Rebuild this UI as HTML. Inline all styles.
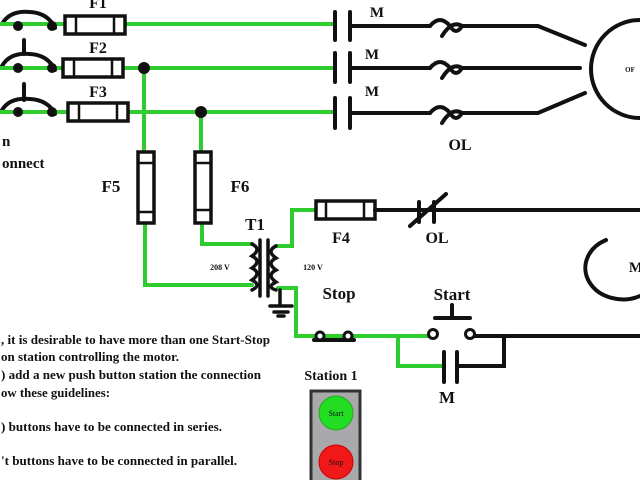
<!DOCTYPE html>
<html><head><meta charset="utf-8"><style>html,body{margin:0;padding:0;background:#fff}svg{display:block}</style></head><body>
<svg width="640" height="480" viewBox="0 0 640 480" xmlns="http://www.w3.org/2000/svg" font-family="Liberation Serif, serif" font-weight="bold">
<rect width="640" height="480" fill="#fff"/>
<g fill="none" stroke-linecap="round">
<!-- disconnect arcs -->
<g stroke="#111" stroke-width="4">
<path d="M2 24 Q10 10 30 12 Q48 13 55 28"/><path d="M2 66 Q10 52 30 54 Q48 55 55 70"/><path d="M2 110 Q10 97 30 99 Q48 100 55 114"/>
<path d="M24 40 V54"/><path d="M24 84 V100"/>
</g>
<!-- green power lines -->
<g stroke="#2ecc2e" stroke-width="4">
<path d="M0 24 H64"/><path d="M126 24 H335"/>
<path d="M0 68 H62"/><path d="M124 68 H335"/>
<path d="M0 112 H67"/><path d="M129 112 H335"/>
<path d="M144 68 V150"/><path d="M201 112 V150"/>
<path d="M145 223 V285 H252"/><path d="M202 223 V244 H252"/>
<path d="M276 246 H292 V210 H316"/>
<path d="M278 288 H296 V336 H432"/>
<path d="M398 336 V366 H444"/>
</g>
<g fill="#111" stroke="none"><circle cx="18" cy="26" r="5"/><circle cx="52" cy="26" r="5"/><circle cx="18" cy="68" r="5"/><circle cx="52" cy="68" r="5"/><circle cx="18" cy="112" r="5"/><circle cx="52" cy="112" r="5"/>
<circle cx="144" cy="68" r="6"/><circle cx="201" cy="112" r="6"/></g>
<!-- fuses -->
<g stroke="#111" stroke-width="3.5" fill="#fff">
<rect x="65" y="16" width="60" height="18"/><rect x="63" y="59" width="60" height="18"/><rect x="68" y="103" width="60" height="18"/>
<rect x="138" y="152" width="16" height="71"/><rect x="195" y="152" width="16" height="71"/>
<rect x="316" y="201" width="59" height="18"/>
</g>
<g stroke="#111" stroke-width="2.5">
<path d="M76 16V34M114 16V34M74 59V77M112 59V77M79 103V121M117 103V121"/>
<path d="M138 163H154M138 212H154M195 163H211M195 210H211"/>
<path d="M326 201V219M364 201V219"/>
</g>
<!-- contactors and OL heaters -->
<g stroke="#111" stroke-width="4">
<path d="M335 12V40M350 12V40M335 53V82M350 53V82M335 98V128M350 98V128"/>
<path d="M350 26H430M350 68H430M350 113H430"/>
<path d="M430 26 Q440 14 450 26 Q456 36 462 26"/><path d="M442 36 Q452 20 462 26"/>
<path d="M430 68 Q440 56 450 68 Q456 78 462 68"/><path d="M442 78 Q452 62 462 68"/>
<path d="M430 113 Q440 101 450 113 Q456 123 462 113"/><path d="M442 123 Q452 107 462 113"/>
<path d="M462 26H538L585 45"/><path d="M462 68H580"/><path d="M462 113H538L585 93"/>
<path d="M640 20 A48 48 0 0 0 640 118"/>
<!-- control line -->
<path d="M375 210H640"/><path d="M419 202V222M434 202V222M410 226L446 194"/>
<path d="M606 240 A36 30 0 0 0 640 296"/>
<path d="M470 336H640"/><path d="M504 336V366H458"/>
<path d="M444 352V382M457 352V382"/>
<path d="M435 318H470M452 318V305"/>
<path d="M314 340H354"/>
</g>
<g stroke="#111" stroke-width="3" fill="#fff"><circle cx="433" cy="334" r="4.5"/><circle cx="470" cy="334" r="4.5"/><circle cx="320" cy="336" r="4"/><circle cx="348" cy="336" r="4"/></g>
<!-- transformer -->
<g stroke="#111" stroke-width="3.5">
<path d="M252 244 Q262 249 252 256 Q262 261 252 268 Q262 273 252 280 Q262 285 252 290"/>
<path d="M276 246 Q266 251 276 258 Q266 263 276 270 Q266 275 276 282 Q266 287 276 290"/>
<path d="M260 240V296M268 240V296"/>
<path d="M280 290V306M270 306H292M274 312H288M278 316H284"/>
</g>
</g>
<!-- station -->
<rect x="311" y="391" width="49" height="92" fill="#a9a9ab" stroke="#333" stroke-width="3"/>
<circle cx="336" cy="413" r="17" fill="#22dd22" stroke="#2a2" stroke-width="1"/>
<circle cx="336" cy="462" r="17" fill="#f01818" stroke="#c00" stroke-width="1"/>
<g fill="#111" text-anchor="middle">
<text x="336" y="416" font-size="8" font-weight="normal">Start</text>
<text x="336" y="465" font-size="8" font-weight="normal">Stop</text>
<text x="98" y="8" font-size="16">F1</text><text x="98" y="53" font-size="16">F2</text><text x="98" y="97" font-size="16">F3</text>
<text x="377" y="17" font-size="15">M</text><text x="372" y="59" font-size="15">M</text><text x="372" y="96" font-size="15">M</text>
<text x="460" y="150" font-size="16">OL</text>
<text x="630" y="72" font-size="7">OF</text>
<text x="111" y="192" font-size="17">F5</text><text x="240" y="192" font-size="17">F6</text>
<text x="255" y="230" font-size="17">T1</text>
<text x="341" y="243" font-size="16">F4</text><text x="437" y="243" font-size="16">OL</text>
<text x="220" y="270" font-size="8">208 V</text><text x="313" y="270" font-size="8">120 V</text>
<text x="339" y="299" font-size="17">Stop</text><text x="452" y="300" font-size="17">Start</text>
<text x="447" y="403" font-size="17">M</text>
<text x="636" y="272" font-size="15">M</text>
<text x="331" y="380" font-size="14">Station 1</text>
</g>
<g fill="#111" font-size="12.5">
<text x="2" y="146" font-size="15">n</text><text x="2" y="168" font-size="15">onnect</text>
<text x="1" y="344" textLength="269" lengthAdjust="spacingAndGlyphs">, it is desirable to have more than one Start-Stop</text>
<text x="1" y="361" textLength="178" lengthAdjust="spacingAndGlyphs">on station controlling the motor.</text>
<text x="1" y="379" textLength="260" lengthAdjust="spacingAndGlyphs">) add a new push button station the connection</text>
<text x="1" y="397" textLength="109" lengthAdjust="spacingAndGlyphs">ow these guidelines:</text>
<text x="1" y="431" textLength="221" lengthAdjust="spacingAndGlyphs">) buttons have to be connected in series.</text>
<text x="1" y="465" textLength="236" lengthAdjust="spacingAndGlyphs">'t buttons have to be connected in parallel.</text>
</g>
</svg>
</body></html>
